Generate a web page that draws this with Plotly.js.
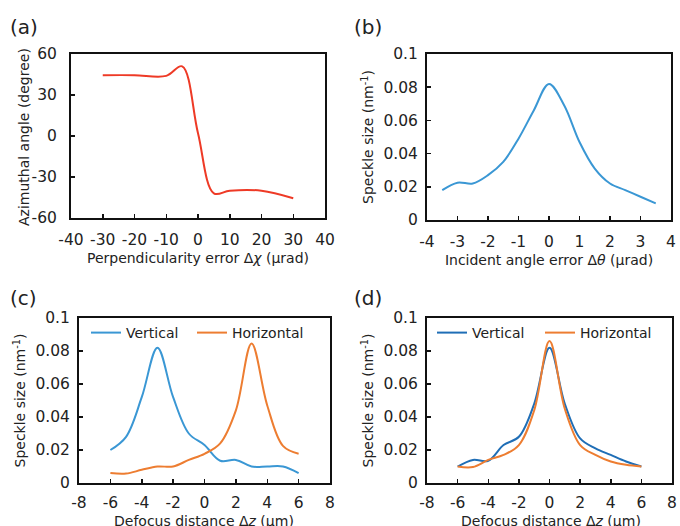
<!DOCTYPE html>
<html>
<head>
<meta charset="utf-8">
<script src="https://cdn.plot.ly/plotly-3.0.1.min.js"></script>
<style>html,body{margin:0;padding:0;background:#fff;}#chart{width:680px;height:526px;}</style>
</head>
<body>
<div id="chart"></div>
<script>
// (a) Azimuthal angle vs perpendicularity error
const aX = [-30, -20, -10, -5, 0, 5, 10, 20, 30];
const aY = [44.5, 44.5, 44, 51, 2, -42, -40, -40, -45.5];

// (b) Speckle size vs incident angle error
const bX = [-3.5, -3, -2.5, -2, -1.5, -1, -0.5, 0, 0.5, 1, 1.5, 2, 2.5, 3, 3.5];
const bY = [0.018, 0.0225, 0.022, 0.027, 0.035, 0.049, 0.066, 0.082, 0.069, 0.047, 0.031, 0.022, 0.018, 0.014, 0.010];

// (c) Speckle size vs defocus distance
const cX = [-6, -5, -4, -3, -2, -1, 0, 1, 2, 3, 4, 5, 6];
const cVert = [0.020, 0.028, 0.052, 0.082, 0.052, 0.030, 0.023, 0.0135, 0.014, 0.010, 0.010, 0.010, 0.006];
const cHoriz = [0.006, 0.0057, 0.008, 0.010, 0.010, 0.014, 0.0177, 0.024, 0.044, 0.0845, 0.047, 0.0225, 0.0177];

// (d) Speckle size vs defocus distance
const dX = [-6, -5, -4, -3, -2, -1, 0, 1, 2, 3, 4, 5, 6];
const dVert = [0.010, 0.014, 0.0135, 0.023, 0.028, 0.048, 0.082, 0.048, 0.027, 0.021, 0.017, 0.013, 0.010];
const dHoriz = [0.010, 0.0097, 0.014, 0.017, 0.023, 0.044, 0.086, 0.045, 0.023, 0.017, 0.013, 0.011, 0.010];

const seriesNames = ['Vertical', 'Horizontal'];
const panelLabels = ['(a)', '(b)', '(c)', '(d)'];

// tick values and labels
const aXTicks = [-40, -30, -20, -10, 0, 10, 20, 30, 40];
const aXTickText = ['-40', '-30', '-20', '-10', '0', '10', '20', '30', '40'];
const aYTicks = [-60, -30, 0, 30, 60];
const aYTickText = ['-60', '-30', '0', '30', '60'];
const bXTicks = [-4, -3, -2, -1, 0, 1, 2, 3, 4];
const bXTickText = ['-4', '-3', '-2', '-1', '0', '1', '2', '3', '4'];
const sizeTicks = [0, 0.02, 0.04, 0.06, 0.08, 0.1];
const sizeTickText = ['0', '0.02', '0.04', '0.06', '0.08', '0.1'];
const zTicks = [-8, -6, -4, -2, 0, 2, 4, 6, 8];
const zTickText = ['-8', '-6', '-4', '-2', '0', '2', '4', '6', '8'];

const W = 680, H = 526;
const FONT = 'DejaVu Sans, Verdana, sans-serif';
const TXT = '#222';

function dom(x0, x1, y0, y1) {
  return { x: [x0 / W, x1 / W], y: [1 - y1 / H, 1 - y0 / H] };
}
const dA = dom(71, 325, 54, 218);
const dB = dom(427, 671, 54, 220);
const dC = dom(79, 330, 318, 483);
const dD = dom(427, 672, 318, 483);

function ax(extra) {
  return Object.assign({
    showline: true, mirror: true, linecolor: '#111', linewidth: 2,
    ticks: 'inside', ticklen: 4, tickwidth: 1.5, tickcolor: '#111',
    showgrid: false, zeroline: false, fixedrange: true,
    tickmode: 'array',
    tickfont: { family: FONT, size: 15.5, color: TXT },
    automargin: false, tickangle: 0
  }, extra);
}

const blue = '#3A97D4';
const blueDark = '#1F6EB6';
const orange = '#ED7D31';
const red = '#EE3A26';

const traces = [
  { x: aX, y: aY, xaxis: 'x', yaxis: 'y', mode: 'lines', line: { color: red, width: 2, shape: 'spline' }, showlegend: false },
  { x: bX, y: bY, xaxis: 'x2', yaxis: 'y2', mode: 'lines', line: { color: blue, width: 2, shape: 'spline' }, showlegend: false },
  { x: cX, y: cVert, name: seriesNames[0], xaxis: 'x3', yaxis: 'y3', mode: 'lines', line: { color: blue, width: 2, shape: 'spline' }, legend: 'legend' },
  { x: cX, y: cHoriz, name: seriesNames[1], xaxis: 'x3', yaxis: 'y3', mode: 'lines', line: { color: orange, width: 2, shape: 'spline' }, legend: 'legend3' },
  { x: dX, y: dVert, name: seriesNames[0], xaxis: 'x4', yaxis: 'y4', mode: 'lines', line: { color: blueDark, width: 2, shape: 'spline' }, legend: 'legend2' },
  { x: dX, y: dHoriz, name: seriesNames[1], xaxis: 'x4', yaxis: 'y4', mode: 'lines', line: { color: orange, width: 2, shape: 'spline' }, legend: 'legend4' }
];

const titleFont = { family: FONT, size: 14, color: TXT };
const speckleTitle = { text: 'Speckle size (nm<sup>-1</sup>)', font: titleFont, standoff: 6 };
const defocusText = 'Defocus distance Δ<i>z</i> (μm)';

const legendCommon = {
  orientation: 'h', xanchor: 'left', yanchor: 'middle',
  bgcolor: 'rgba(0,0,0,0)', borderwidth: 0,
  font: { family: FONT, size: 14, color: TXT },
  itemwidth: 30, tracegroupgap: 0, itemclick: false, itemdoubleclick: false
};
const legY = 1 - 333 / H;

const layout = {
  width: W, height: H,
  margin: { l: 0, r: 0, t: 0, b: 0 },
  paper_bgcolor: '#fff', plot_bgcolor: '#fff',
  font: { family: FONT, color: TXT },
  showlegend: true,
  xaxis: ax({ domain: dA.x, anchor: 'y', range: [-40, 40], tickvals: aXTicks, ticktext: aXTickText, ticklabelstandoff: 6,
    title: { text: 'Perpendicularity error Δ<i>χ</i> (μrad)', font: titleFont, standoff: 6 } }),
  yaxis: ax({ domain: dA.y, anchor: 'x', range: [-60, 60], tickvals: aYTicks, ticktext: aYTickText, ticklabelstandoff: 9 }),
  xaxis2: ax({ domain: dB.x, anchor: 'y2', range: [-4, 4], tickvals: bXTicks, ticktext: bXTickText, ticklabelstandoff: 6,
    title: { text: 'Incident angle error Δ<i>θ</i> (μrad)', font: titleFont, standoff: 6 } }),
  yaxis2: ax({ domain: dB.y, anchor: 'x2', range: [0, 0.1], tickvals: sizeTicks, ticktext: sizeTickText, ticklabelstandoff: 4,
    title: speckleTitle }),
  xaxis3: ax({ domain: dC.x, anchor: 'y3', range: [-8, 8], tickvals: zTicks, ticktext: zTickText, ticklabelstandoff: 4 }),
  yaxis3: ax({ domain: dC.y, anchor: 'x3', range: [0, 0.1], tickvals: sizeTicks, ticktext: sizeTickText, ticklabelstandoff: 4,
    title: speckleTitle }),
  xaxis4: ax({ domain: dD.x, anchor: 'y4', range: [-8, 8], tickvals: zTicks, ticktext: zTickText, ticklabelstandoff: 4 }),
  yaxis4: ax({ domain: dD.y, anchor: 'x4', range: [0, 0.1], tickvals: sizeTicks, ticktext: sizeTickText, ticklabelstandoff: 4,
    title: speckleTitle }),
  legend: Object.assign({}, legendCommon, { x: 86 / W, y: legY }),
  legend3: Object.assign({}, legendCommon, { x: 192 / W, y: legY }),
  legend2: Object.assign({}, legendCommon, { x: 432 / W, y: legY }),
  legend4: Object.assign({}, legendCommon, { x: 540 / W, y: legY }),
  annotations: [
    { text: panelLabels[0], x: 8 / W, y: 1 - 27 / H, font: { family: FONT, size: 20, color: TXT } },
    { text: panelLabels[1], x: 352 / W, y: 1 - 27 / H, font: { family: FONT, size: 20, color: TXT } },
    { text: panelLabels[2], x: 8 / W, y: 1 - 298 / H, font: { family: FONT, size: 20, color: TXT } },
    { text: panelLabels[3], x: 352 / W, y: 1 - 298 / H, font: { family: FONT, size: 20, color: TXT } },
    { text: 'Azimuthal angle (degree)', x: 24 / W, y: 1 - 137 / H, xanchor: 'center', textangle: -90, font: titleFont },
    { text: defocusText, x: 204 / W, y: 1 - 521 / H, xanchor: 'center', font: titleFont },
    { text: defocusText, x: 551 / W, y: 1 - 521 / H, xanchor: 'center', font: titleFont }
  ].map(a => Object.assign({ xref: 'paper', yref: 'paper', xanchor: 'left', yanchor: 'middle', showarrow: false }, a))
};

Plotly.newPlot('chart', traces, layout, { displayModeBar: false, staticPlot: true });
</script>
</body>
</html>
